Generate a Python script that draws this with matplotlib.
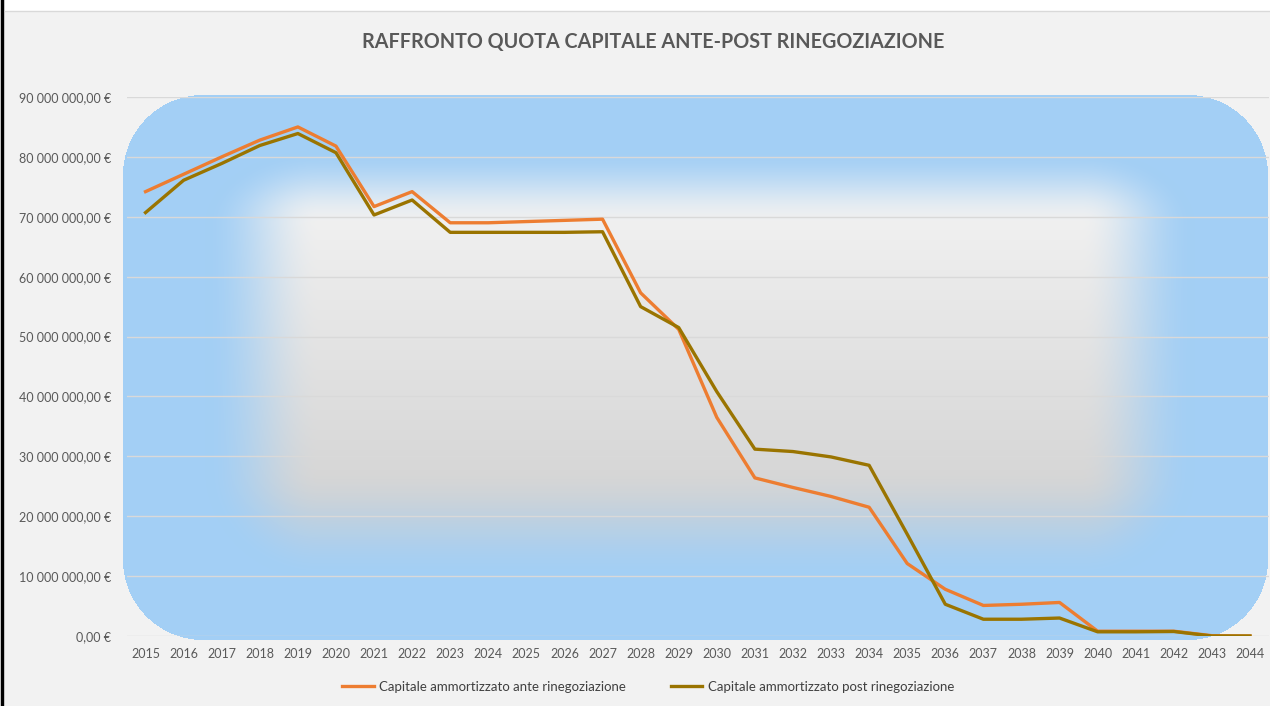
import numpy as np
import matplotlib
matplotlib.use("Agg")
import matplotlib.pyplot as plt

# data (values in millions of euro)
years = [str(y) for y in range(2015, 2045)]
ante = [74.2, 77.1, 80.0, 82.8, 85.0, 81.8, 71.7, 74.2, 69.0, 69.0,
        69.2, 69.4, 69.6, 57.3, 51.2, 36.5, 26.4, 24.8, 23.3, 21.5,
        12.1, 7.8, 5.1, 5.3, 5.6, 0.8, 0.8, 0.8, 0.05, 0.0]
post = [70.7, 76.1, 78.9, 81.9, 83.9, 80.7, 70.3, 72.8, 67.4, 67.4,
        67.4, 67.4, 67.5, 55.0, 51.5, 40.8, 31.2, 30.8, 29.9, 28.5,
        17.0, 5.3, 2.8, 2.8, 3.0, 0.7, 0.7, 0.75, 0.0, 0.0]
series_names = ["Capitale ammortizzato ante rinegoziazione",
                "Capitale ammortizzato post rinegoziazione"]
title = "RAFFRONTO QUOTA CAPITALE ANTE-POST RINEGOZIAZIONE"

W, H = 1270, 706
plt.rcParams['font.family'] = ['Lato', 'DejaVu Sans']
fig = plt.figure(figsize=(W / 100, H / 100), dpi=100)

# ---- background picture (pixel space) ----
yy, xx = np.mgrid[0:H, 0:W].astype(float) + 0.5
img = np.empty((H, W, 3))
img[:] = np.array([242, 242, 242]) / 255.0
img[yy < 11] = 1.0
img[xx < 5] = 1.0

# rounded rectangle fill
x0, x1, y0, y1, r = 123, 1268, 95, 640, 80
cx = np.clip(xx, x0 + r, x1 - r)
cy = np.clip(yy, y0 + r, y1 - r)
inside = ((xx >= x0) & (xx <= x1) & (yy >= y0) & (yy <= y1)
          & (np.hypot(xx - cx, yy - cy) <= r))

# inner grey vertical gradient
t = np.clip((yy - 200) / 320.0, 0, 1)
grey = (242 + (210 - 242) * t) / 255.0
inner = np.stack([grey, grey, grey], axis=-1)

# blue glow from edges (different fade length on each side)
dl = np.clip(320 - xx, 0, None) / 115.0
dr = np.clip(xx - 1080, 0, None) / 115.0
dt = np.clip(225 - yy, 0, None) / 75.0
db = np.clip(yy - 470, 0, None) / 110.0
w = np.clip(np.hypot(dl + dr, dt + db), 0, 1)
w = w * w * (3 - 2 * w)
blue = np.array([163, 207, 245]) / 255.0
fill = inner * (1 - w[..., None]) + blue * w[..., None]
img[inside] = fill[inside]

bg = fig.add_axes([0, 0, 1, 1], zorder=0)
bg.imshow(img, extent=(0, W, H, 0), aspect='auto', interpolation='bilinear')
bg.plot([2, 2], [0, H], color='black', lw=2.5)
bg.plot([5, W], [11, 11], color='#d9d9d9', lw=1)
bg.set_xlim(0, W)
bg.set_ylim(H, 0)
bg.axis('off')

# ---- main axes ----
left, right = 126.5, 1269
bottom, top = 636, 97
ax = fig.add_axes([left / W, (H - bottom) / H, (right - left) / W, (bottom - top) / H], zorder=1)
ax.patch.set_alpha(0)
x = np.arange(len(years))
ax.plot(x, np.array(ante) * 1e6, color='#ed7d31', lw=2.4, solid_joinstyle='round',
        label=series_names[0])
ax.plot(x, np.array(post) * 1e6, color='#9a7400', lw=2.4, solid_joinstyle='round',
        label=series_names[1])

ax.set_xlim(-0.5, len(years) - 0.5)
ax.set_ylim(0, 90e6)
yt = np.arange(0, 90e6 + 1, 10e6)
ax.set_yticks(yt)
ax.set_yticklabels([f"{v:,.2f}".replace(",", " ").replace(".", ",") + " €" for v in yt])
ax.set_xticks(x)
ax.set_xticklabels(years)
ax.tick_params(axis='both', length=0, labelsize=9, labelcolor='#595959')
ax.tick_params(axis='y', pad=11)
ax.tick_params(axis='x', pad=9)
ax.grid(axis='y', color='#d9d9d9', lw=1)
ax.set_axisbelow(True)
for s in ax.spines.values():
    s.set_visible(False)

fig.text(653 / W, 1 - 42 / H, title, ha='center', va='center',
         fontsize=14.2, fontweight='bold', color='#595959')

leg = fig.legend(loc='center', bbox_to_anchor=(648 / W, 1 - 687 / H), ncol=2,
                 frameon=False, fontsize=9.5, handlelength=2.4, columnspacing=3.4,
                 handletextpad=0.4)
for txt in leg.get_texts():
    txt.set_color('#404040')

fig.savefig("out.png", dpi=100)
